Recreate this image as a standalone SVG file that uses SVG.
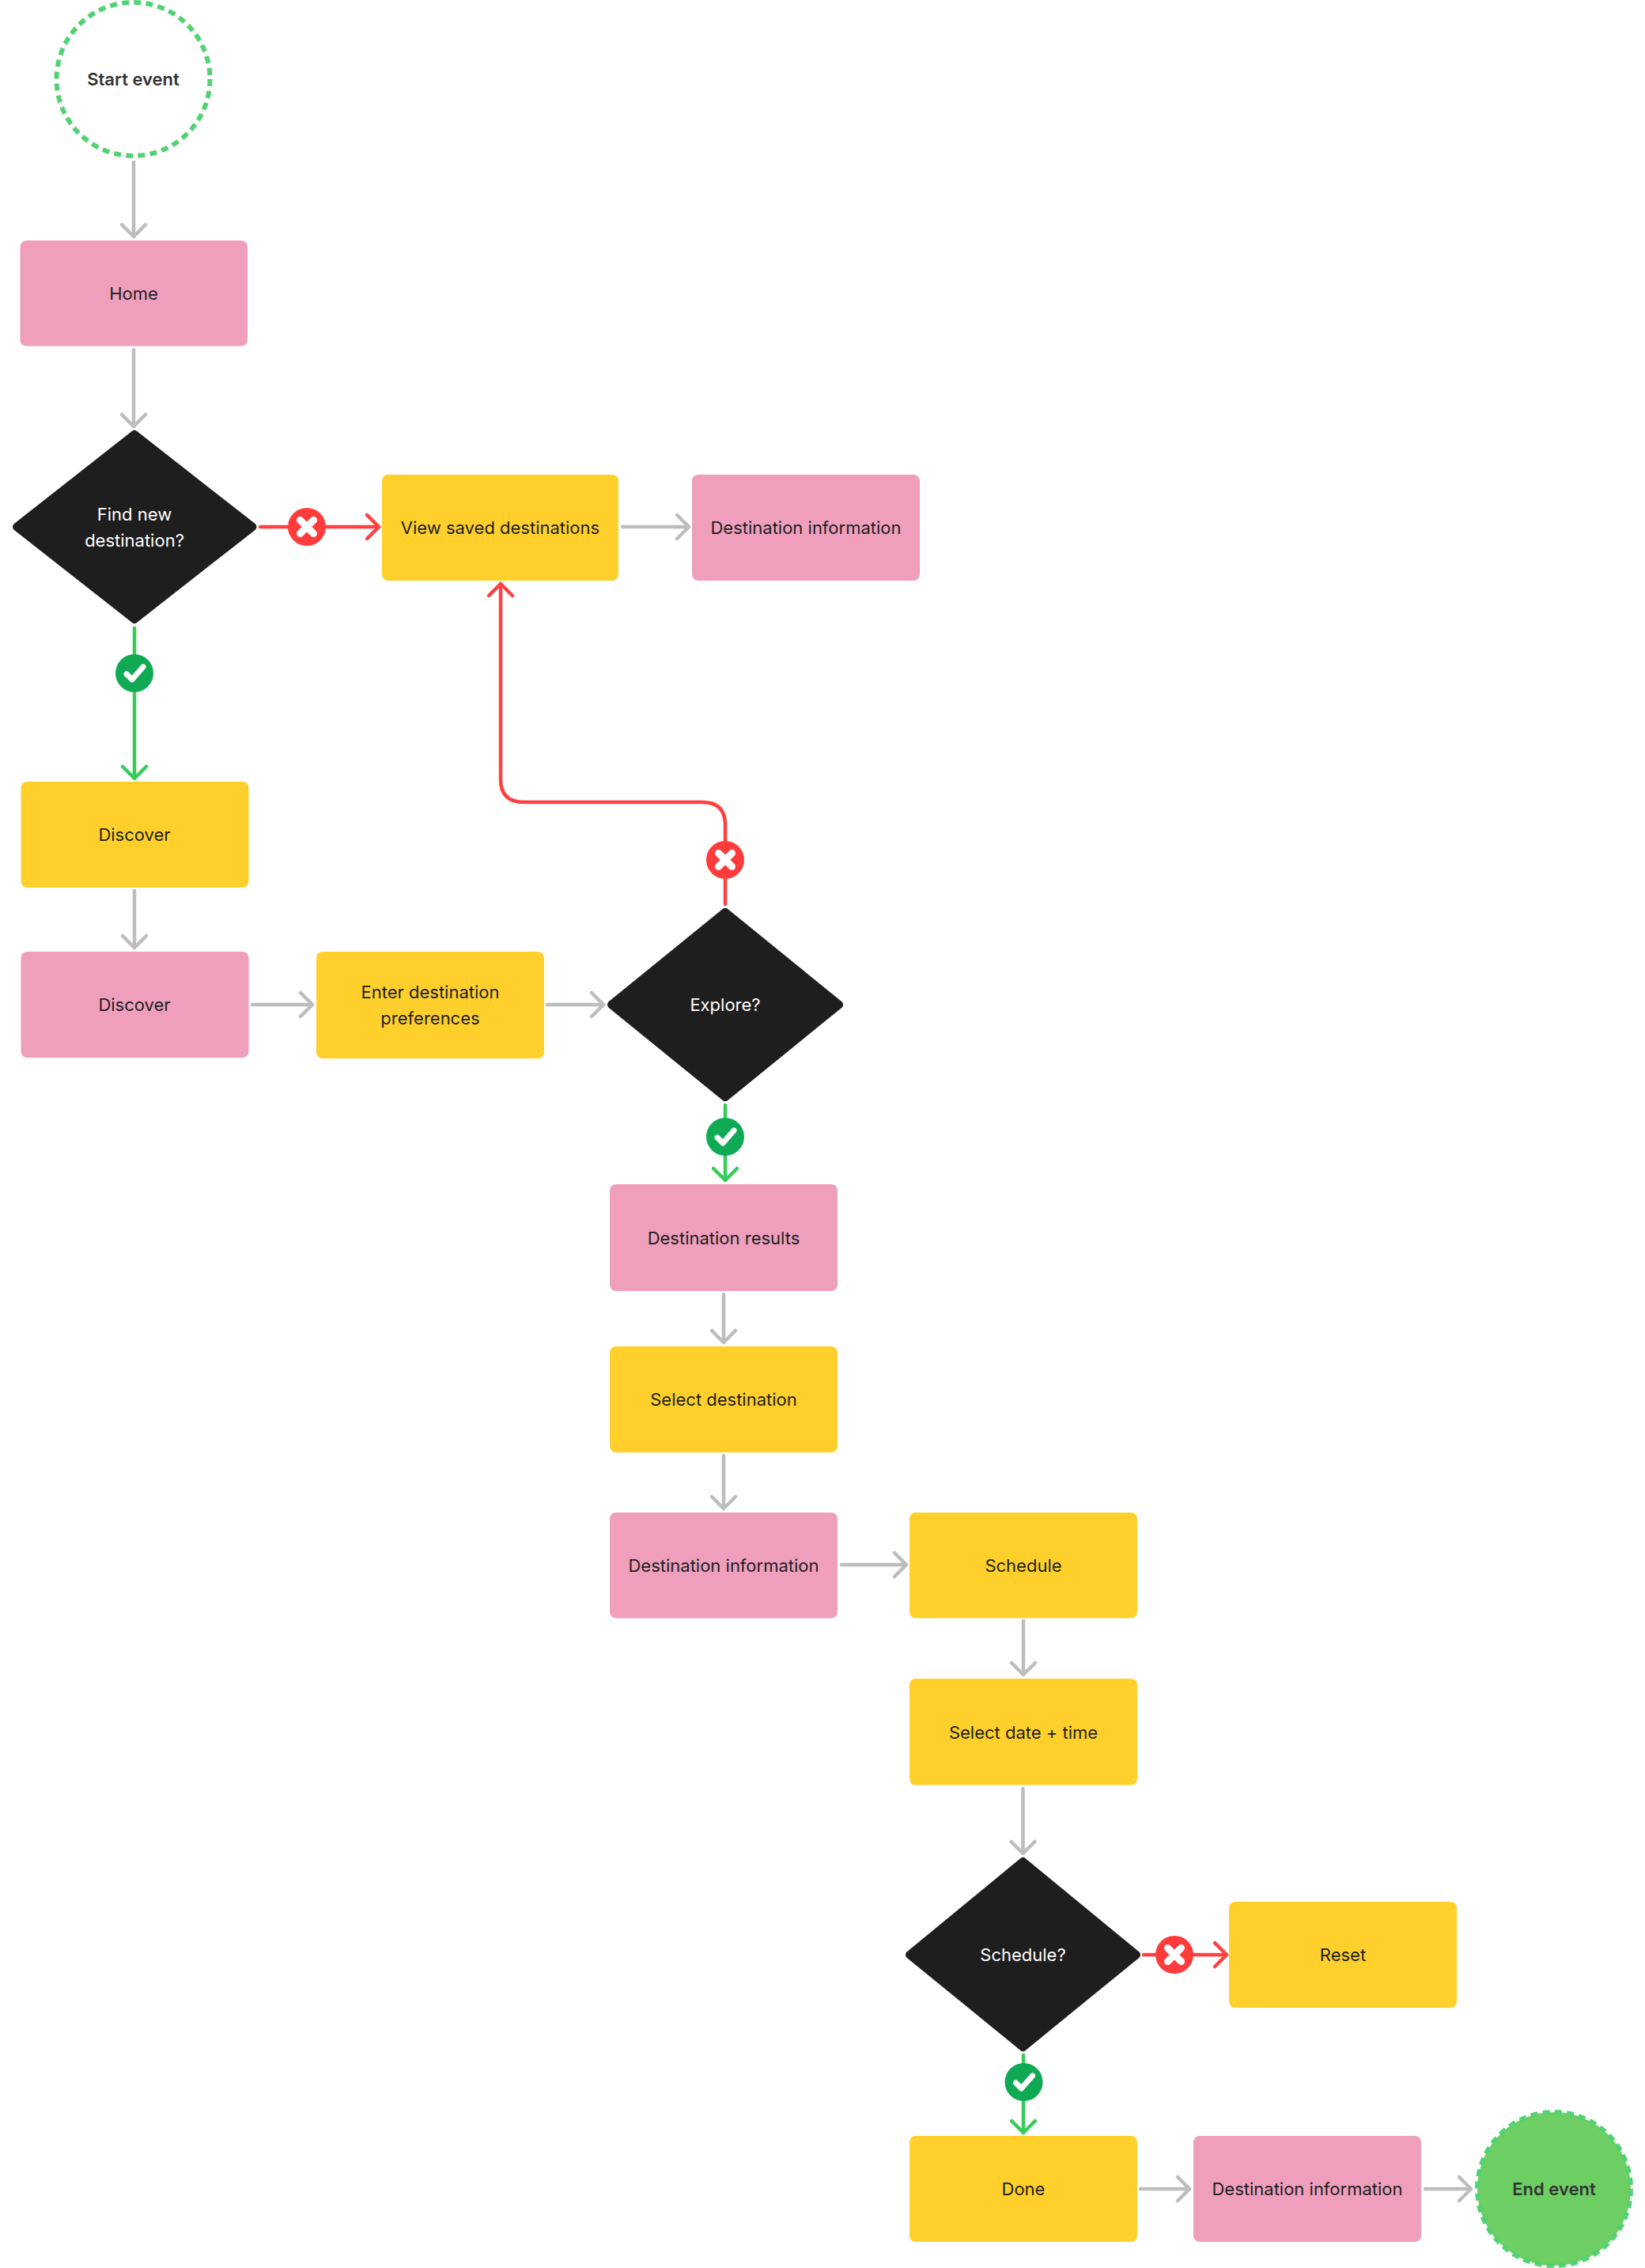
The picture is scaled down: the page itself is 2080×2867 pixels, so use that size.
<svg xmlns="http://www.w3.org/2000/svg" width="2080" height="2867" viewBox="0 0 2080 2867">
<style>
text{font-family:Inter,"Liberation Sans",sans-serif;font-size:22px;fill:#1e1e1e;text-anchor:middle;dominant-baseline:central}
.w{fill:#fff}.b{font-weight:600;fill:#333}
.p{fill:#ef9fbc}.y{fill:#ffd02b}.k{fill:#1e1e1e;stroke:#1e1e1e;stroke-width:10;stroke-linejoin:round}
.c{fill:none;stroke-width:4.500;stroke-linecap:round;stroke-linejoin:round}
.g{stroke:#bdbdbd;marker-end:url(#ag)}.gr{stroke:#35cc5a}.gra{marker-end:url(#agr)}.r{stroke:#ff4040}.ra{marker-end:url(#ar)}
.i{fill:none;stroke:#fff;stroke-width:7;stroke-linecap:round;stroke-linejoin:round}
</style>
<defs>
<marker id="ag" markerUnits="userSpaceOnUse" markerWidth="40" markerHeight="40" refX="30" refY="20" orient="auto"><path d="M15 5L30 20L15 35" fill="none" stroke="#bdbdbd" stroke-width="4.500" stroke-linecap="round" stroke-linejoin="round"/></marker>
<marker id="agr" markerUnits="userSpaceOnUse" markerWidth="40" markerHeight="40" refX="30" refY="20" orient="auto"><path d="M15 5L30 20L15 35" fill="none" stroke="#35cc5a" stroke-width="4.500" stroke-linecap="round" stroke-linejoin="round"/></marker>
<marker id="ar" markerUnits="userSpaceOnUse" markerWidth="40" markerHeight="40" refX="30" refY="20" orient="auto"><path d="M15 5L30 20L15 35" fill="none" stroke="#ff4040" stroke-width="4.500" stroke-linecap="round" stroke-linejoin="round"/></marker>
<g id="yes"><circle r="24" fill="#10aa55"/><path class="i" d="M-10 1L-3 8L11 -8"/></g>
<g id="no"><circle r="24" fill="#ff3b3b"/><path class="i" d="M-8.500 -8.500L8.500 8.500M8.500 -8.500L-8.500 8.500" style="stroke-width:9"/></g>
</defs>
<g id="connectors">
<path class="c g" d="M169 205V299"/>
<path class="c g" d="M169 442V539"/>
<path class="c r ra" d="M329 666H479"/>
<path class="c gr gra" d="M170 794V984"/>
<path class="c g" d="M170 1126V1198"/>
<path class="c g" d="M319 1270H395"/>
<path class="c g" d="M692 1270H763"/>
<path class="c g" d="M787 666H871"/>
<path class="c r ra" d="M917 1143V1043Q917 1014 888 1014H662Q633 1014 633 985V738"/>
<path class="c gr gra" d="M917 1397V1492"/>
<path class="c g" d="M915 1636V1697"/>
<path class="c g" d="M915 1840V1907"/>
<path class="c g" d="M1064 1978H1146"/>
<path class="c g" d="M1294 2049V2117"/>
<path class="c g" d="M1293.500 2261V2343"/>
<path class="c r ra" d="M1446 2471H1551"/>
<path class="c gr gra" d="M1294 2598V2696"/>
<path class="c g" d="M1442 2767H1504"/>
<path class="c g" d="M1802 2767H1860"/>
</g>
<use href="#no" x="388" y="666"/>
<use href="#yes" x="170" y="851"/>
<use href="#no" x="917" y="1087"/>
<use href="#yes" x="917" y="1437"/>
<use href="#no" x="1485" y="2471"/>
<use href="#yes" x="1294.500" y="2632"/>
<g id="n-start"><circle cx="168.500" cy="100" r="97" fill="#fff" stroke="#52d273" stroke-width="6" stroke-dasharray="9 6.240"/><text class="b" x="168.500" y="100">Start event</text></g>
<g id="n-home"><rect class="p" x="25.500" y="304" width="287.500" height="133.500" rx="8"/><text x="169" y="371">Home</text></g>
<g id="n-find"><path class="k" d="M170 549L319.500 666L170 783L21 666Z"/><text class="w" x="170" y="650">Find new</text><text class="w" x="170" y="683">destination?</text></g>
<g id="n-view"><rect class="y" x="483" y="600" width="299" height="134" rx="8"/><text x="632.500" y="667">View saved destinations</text></g>
<g id="n-info1"><rect class="p" x="875" y="600" width="288" height="134" rx="8"/><text x="1019" y="667">Destination information</text></g>
<g id="n-discover1"><rect class="y" x="26.500" y="988" width="288" height="134" rx="8"/><text x="170" y="1055">Discover</text></g>
<g id="n-discover2"><rect class="p" x="26.500" y="1203" width="288" height="134" rx="8"/><text x="170" y="1270">Discover</text></g>
<g id="n-enter"><rect class="y" x="400" y="1203" width="288" height="135" rx="8"/><text x="544" y="1254">Enter destination</text><text x="544" y="1287">preferences</text></g>
<g id="n-explore"><path class="k" d="M917 1153L1061 1270L917 1387L773 1270Z"/><text class="w" x="917" y="1270">Explore?</text></g>
<g id="n-results"><rect class="p" x="771" y="1497" width="288" height="135" rx="8"/><text x="915" y="1565">Destination results</text></g>
<g id="n-select"><rect class="y" x="771" y="1702" width="288" height="134" rx="8"/><text x="915" y="1769">Select destination</text></g>
<g id="n-info2"><rect class="p" x="771" y="1912" width="288" height="133.500" rx="8"/><text x="915" y="1979">Destination information</text></g>
<g id="n-schedule"><rect class="y" x="1150" y="1912" width="288" height="133.500" rx="8"/><text x="1294" y="1979">Schedule</text></g>
<g id="n-date"><rect class="y" x="1150" y="2122" width="288" height="134.500" rx="8"/><text x="1294" y="2190">Select date + time</text></g>
<g id="n-sched"><path class="k" d="M1293.500 2353L1437 2471L1293.500 2588L1150 2471Z"/><text class="w" x="1293.500" y="2471">Schedule?</text></g>
<g id="n-reset"><rect class="y" x="1554" y="2404" width="288" height="134" rx="8"/><text x="1698" y="2471">Reset</text></g>
<g id="n-done"><rect class="y" x="1150" y="2700" width="288" height="134" rx="8"/><text x="1294" y="2767">Done</text></g>
<g id="n-info3"><rect class="p" x="1509" y="2700" width="288" height="134" rx="8"/><text x="1653" y="2767">Destination information</text></g>
<g id="n-end"><circle cx="1965" cy="2767" r="97" fill="#6dce63" stroke="#52d273" stroke-width="6" stroke-dasharray="9 6.240"/><text class="b" x="1965" y="2767">End event</text></g>
</svg>
